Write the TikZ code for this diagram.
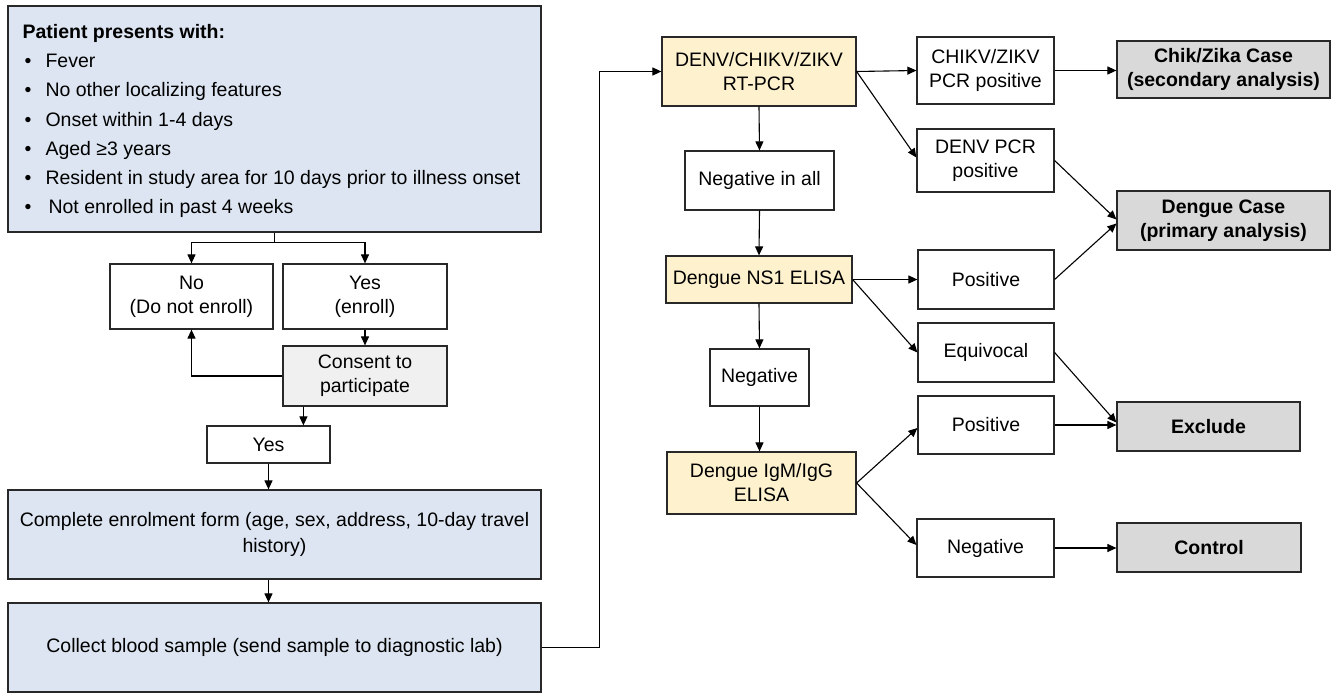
\documentclass[tikz,border=0pt]{standalone}
\usepackage{fontspec}
\setmainfont{Liberation Sans}
\usetikzlibrary{arrows.meta,calc}
\definecolor{bluefill}{RGB}{220,229,241}
\definecolor{yelfill}{RGB}{254,241,206}
\definecolor{grayfill}{RGB}{217,217,217}
\definecolor{lightfill}{RGB}{240,240,240}
\definecolor{edge}{RGB}{40,40,40}
\begin{document}
\begin{tikzpicture}[x=1pt,y=-1pt,
  every node/.style={font=\fontsize{19.5}{24}\selectfont, text=black},
  box/.style={draw=edge, line width=1.2pt, fill=white, align=center, inner sep=0pt},
  bluebox/.style={box, fill=bluefill},
  yelbox/.style={box, fill=yelfill},
  outbox/.style={box, fill=grayfill, font=\fontsize{19.5}{24}\selectfont\bfseries},
  conbox/.style={box, fill=lightfill},
  arr/.style={draw=black, line width=1.1pt, -{Triangle[length=9pt,width=8pt]}},
  ln/.style={draw=black, line width=1.1pt}]
\useasboundingbox (0,0) rectangle (1331,693);

% ---- left column ----
\node[bluebox, minimum width=533pt, minimum height=226pt] (crit) at (274.5,119) {};
\node[anchor=west, align=left, font=\fontsize{19.5}{29.3}\selectfont] (crittext) at (19,121)
 {\textbf{Patient presents with:}\\
  \makebox[23pt][l]{\hspace{2pt}\textbullet}Fever\\
  \makebox[23pt][l]{\hspace{2pt}\textbullet}No other localizing features\\
  \makebox[23pt][l]{\hspace{2pt}\textbullet}Onset within 1-4 days\\
  \makebox[23pt][l]{\hspace{2pt}\textbullet}Aged ≥3 years\\
  \makebox[23pt][l]{\hspace{2pt}\textbullet}Resident in study area for 10 days prior to illness onset\\
  \makebox[26pt][l]{\hspace{2pt}\textbullet}Not enrolled in past 4 weeks};

\node[box, minimum width=163pt, minimum height=65pt] (no) at (191.5,296.5) {No\\(Do not enroll)};
\node[box, minimum width=164pt, minimum height=65pt] (yes) at (365,296.5) {Yes\\(enroll)};
\node[conbox, minimum width=164pt, minimum height=60pt] (consent) at (365,376) {Consent to\\participate};
\node[box, minimum width=123pt, minimum height=37pt] (yes2) at (268.5,444.5) {Yes};
\node[bluebox, minimum width=533pt, minimum height=89pt, font=\fontsize{19.5}{26}\selectfont] (enrol) at (274.5,534.5)
 {Complete enrolment form (age, sex, address, 10-day travel\\history)};
\node[bluebox, minimum width=533pt, minimum height=89pt] (collect) at (274.5,647.5)
 {Collect blood sample (send sample to diagnostic lab)};

% ---- right part ----
\node[yelbox, minimum width=194pt, minimum height=69pt] (denv) at (759,71.5) {DENV/CHIKV/ZIKV\\RT-PCR};
\node[box, minimum width=149pt, minimum height=59pt] (negall) at (759.5,180.5) {Negative in all};
\node[yelbox, minimum width=186pt, minimum height=47pt] (ns1) at (759,279.5) {Dengue NS1 ELISA};
\node[box, minimum width=99pt, minimum height=57pt] (neg) at (759.5,377.5) {Negative};
\node[yelbox, minimum width=189pt, minimum height=62pt] (igm) at (761.5,483) {Dengue IgM/IgG\\ELISA};

\node[box, minimum width=137pt, minimum height=67pt] (chikv) at (985.5,70.5) {CHIKV/ZIKV\\PCR positive};
\node[box, minimum width=137pt, minimum height=63pt] (denvpcr) at (985.5,160.5) {DENV PCR\\positive};
\node[box, minimum width=136pt, minimum height=59pt] (pos1) at (986,279.5) {Positive};
\node[box, minimum width=136pt, minimum height=59pt] (equiv) at (986,352.5) {Equivocal};
\node[box, minimum width=136pt, minimum height=58pt] (pos2) at (986,425) {Positive};
\node[box, minimum width=137pt, minimum height=58pt] (neg2) at (985.5,548) {Negative};

\node[outbox, minimum width=213pt, minimum height=57pt] (chikcase) at (1223.5,69.5) {Chik/Zika Case\\(secondary analysis)};
\node[outbox, minimum width=213pt, minimum height=59pt] (dcase) at (1223.5,220.5) {Dengue Case\\(primary analysis)};
\node[outbox, minimum width=183pt, minimum height=49pt] (exclude) at (1208.5,426.5) {Exclude};
\node[outbox, minimum width=184pt, minimum height=49pt] (control) at (1209,547.5) {Control};

% ---- connectors left ----
\draw[ln] (crit.south) -- ++(0,10) coordinate (split);
\draw[arr] (split) -| (no.north);
\draw[arr] (split) -| (yes.north);
\draw[arr] (yes.south) -- (consent.north);
\draw[arr] (consent.west) -| (no.south);
\draw[arr] ([xshift=21pt]consent.south west) -- ([xshift=21pt]consent.south west |- yes2.north);
\draw[arr] (yes2.south) -- (yes2.south |- enrol.north);
\draw[arr] (yes2.south |- enrol.south) -- (yes2.south |- collect.north);
\draw[arr] (collect.east) -- ++(58,0) coordinate (turn) |- (denv.west);

% ---- connectors right ----
\draw[arr] (denv.east) -- (chikv.west);
\draw[arr] (chikv.east) -- (chikv.east -| chikcase.west);
\draw[arr] (denv.east) -- ([yshift=3pt]denvpcr.west);
\draw[arr] (denv.south) -- (negall.north);
\draw[arr] (negall.south) -- (ns1.north);
\draw[arr] (ns1.south) -- (neg.north);
\draw[arr] (neg.south) -- (neg.south |- igm.north);
\draw[arr] (ns1.east) -- (pos1.west);
\draw[arr] (ns1.east) -- (equiv.west);
\draw[arr] (denvpcr.east) -- ([yshift=1pt]dcase.west);
\draw[arr] (pos1.east) -- ([yshift=-3pt]dcase.west);
\draw[arr] (equiv.east) -- ([yshift=4pt]exclude.west);
\draw[arr] (pos2.east) -- (pos2.east -| exclude.west);
\draw[arr] (igm.east) -- ([yshift=-3pt]pos2.west);
\draw[arr] (igm.east) -- ([yshift=3pt]neg2.west);
\draw[arr] (neg2.east) -- (neg2.east -| control.west);
\end{tikzpicture}
\end{document}
